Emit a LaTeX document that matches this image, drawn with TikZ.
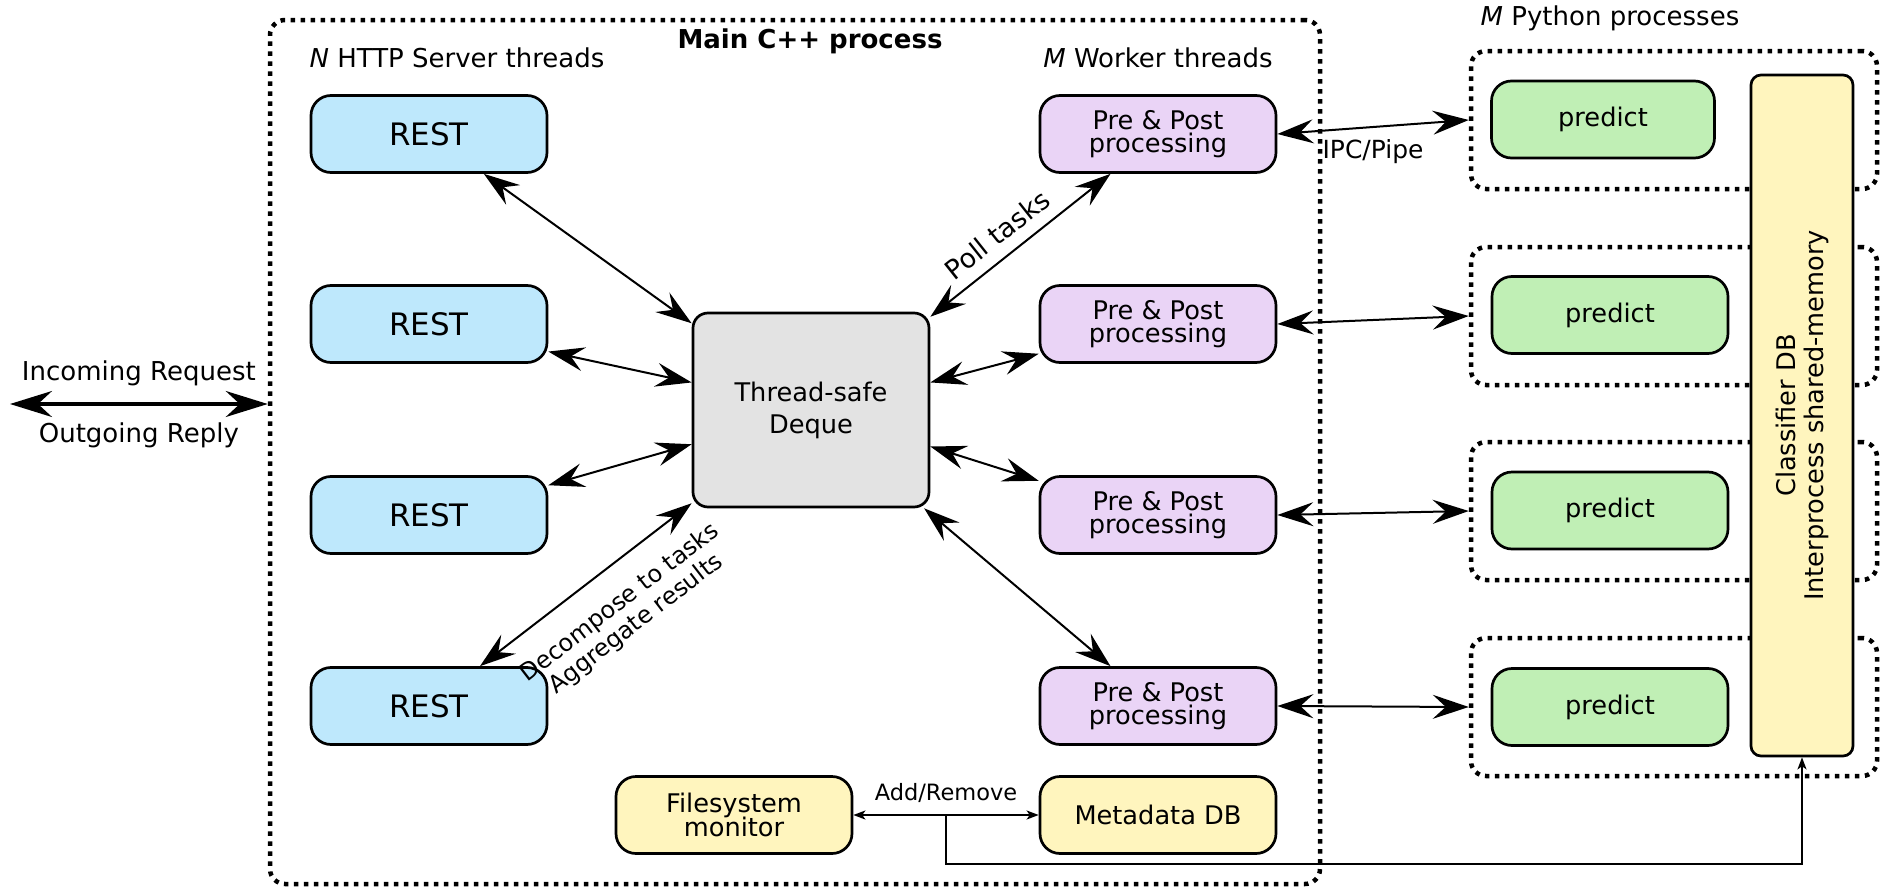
\documentclass[tikz,border=0pt]{standalone}
\usepackage{fontspec}
\setmainfont{DejaVu Sans}
\usetikzlibrary{arrows.meta}

\definecolor{restblue}{RGB}{190,232,252}
\definecolor{workerlilac}{RGB}{234,212,246}
\definecolor{predictgreen}{RGB}{192,239,181}
\definecolor{dbyellow}{RGB}{255,245,190}
\definecolor{dequegrey}{RGB}{227,227,227}

\tikzset{
    box/.style={draw, line width=0.27mm, rounded corners=2mm, minimum width=2.36cm, minimum height=0.77cm,
        inner sep=0pt, align=center, font=\fontsize{7.3}{6.6}\selectfont,
        execute at begin node={\lineskiplimit=-10pt}},
    restbox/.style={box, fill=restblue, font=\fontsize{8.8}{10}\selectfont},
    workerbox/.style={box, fill=workerlilac},
    predictbox/.style={box, fill=predictgreen},
    dbbox/.style={box, fill=dbyellow},
    dotframe/.style={draw, line width=0.45mm, dash pattern=on 0.45mm off 0.55mm, rounded corners=1.5mm, inner sep=0pt},
    link/.style={{Stealth[length=3.6mm, width=2.4mm, inset=1.3mm]}-{Stealth[length=3.6mm, width=2.4mm, inset=1.3mm]}, line width=0.2mm},
    biglink/.style={{Stealth[length=4.2mm, width=2.6mm, inset=1.4mm]}-{Stealth[length=4.2mm, width=2.6mm, inset=1.4mm]}, line width=0.33mm},
    smalllink/.style={{Stealth[length=1.2mm, width=0.9mm, inset=0.3mm]}-{Stealth[length=1.2mm, width=0.9mm, inset=0.3mm]}, line width=0.17mm},
    lbl/.style={font=\fontsize{7.4}{8.6}\selectfont}
}

\begin{document}
\begin{tikzpicture}
        \useasboundingbox (0, 0) rectangle (18.87, 8.88);

        %%main process
        \node[dotframe, minimum width=10.5cm, minimum height=8.64cm] (mainproc) at (7.95, 4.36) {};
            \node[lbl, font=\fontsize{7.4}{8.6}\selectfont\bfseries] (mainhead) at (8.10, 8.47) {Main C++ process};
            \node[lbl] (httphead) at (4.57, 8.30) {\textit{N} HTTP Server threads};
            \node[lbl] (workerhead) at (11.58, 8.30) {\textit{M} Worker threads};

        %%python processes
        \node[lbl] (pyhead) at (16.10, 8.70) {\textit{M} Python processes};
        \node[dotframe, minimum width=4.06cm, minimum height=1.38cm] (py1) at (16.74, 7.68) {};
        \node[dotframe, minimum width=4.06cm, minimum height=1.38cm] (py2) at (16.74, 5.72) {};
        \node[dotframe, minimum width=4.06cm, minimum height=1.38cm] (py3) at (16.74, 3.77) {};
        \node[dotframe, minimum width=4.06cm, minimum height=1.38cm] (py4) at (16.74, 1.81) {};

        \node[predictbox, minimum width=2.23cm] (predict1) at (16.03, 7.685) {predict};
        \node[predictbox] (predict2) at (16.10, 5.73) {predict};
        \node[predictbox] (predict3) at (16.10, 3.775) {predict};
        \node[predictbox] (predict4) at (16.10, 1.81) {predict};

        \node[dbbox, minimum width=1.02cm, minimum height=6.81cm, rounded corners=1mm] (classdb) at (18.02, 4.725) {};
            \node[rotate=90, align=center, font=\fontsize{7.3}{8}\selectfont] (classdbtext) at (classdb.center)
                {Classifier DB\\Interprocess shared-memory};

        %%server threads
        \node[restbox] (rest1) at (4.29, 7.54) {REST};
        \node[restbox] (rest2) at (4.29, 5.64) {REST};
        \node[restbox] (rest3) at (4.29, 3.73) {REST};
        \node[restbox] (rest4) at (4.29, 1.82) {REST};

        \node[box, fill=dequegrey, minimum height=1.94cm, rounded corners=1.5mm,
            font=\fontsize{7.3}{9.1}\selectfont] (deque) at (8.11, 4.78) {Thread-safe\\Deque};

        %%worker threads
        \node[workerbox] (pre1) at (11.58, 7.54) {Pre \& Post\\processing};
        \node[workerbox] (pre2) at (11.58, 5.64) {Pre \& Post\\processing};
        \node[workerbox] (pre3) at (11.58, 3.73) {Pre \& Post\\processing};
        \node[workerbox] (pre4) at (11.58, 1.82) {Pre \& Post\\processing};

        \node[dbbox] (fsmon) at (7.34, 0.73) {Filesystem\\monitor};
        \node[dbbox] (meta) at (11.58, 0.73) {Metadata DB};

        %%client
        \coordinate (client) at (0.10, 4.84);
        \draw[biglink] (client) to node[lbl, above=0.5mm] (inlbl) {Incoming Request}
            node[lbl, below=0.5mm] (outlbl) {Outgoing Reply} (client -| mainproc.west);

        %%server <-> deque
        \draw[link] (rest1.-36) to (deque.144);
        \draw[link] (rest2.-13) to (deque.167);
        \draw[link] (rest3.14) to (deque.-164);
        \draw[link] (rest4.38) to node[sloped, below=1.1mm, pos=0.56, align=center, font=\fontsize{6.8}{7.6}\selectfont] (decomplbl)
            {Decompose to tasks\\Aggregate results} (deque.-142);

        %%deque <-> workers
        \draw[link] (deque.38) to node[sloped, above, pos=0.45, font=\fontsize{7.6}{9}\selectfont] (polllbl) {Poll tasks} (pre1.-140);
        \draw[link] (deque.13) to (pre2.-166);
        \draw[link] (deque.-17) to (pre3.164);
        \draw[link] (deque.-41) to (pre4.140);

        %%workers <-> python
        \draw[link] (pre1.east) to node[below, font=\fontsize{7.1}{8}\selectfont] (ipclbl) {IPC/Pipe} (py1.west);
        \draw[link] (pre2.east) to (py2.west);
        \draw[link] (pre3.east) to (py3.west);
        \draw[link] (pre4.east) to (py4.west);

        %%databases
        \draw[smalllink] (fsmon.east) -- node[above, font=\fontsize{6.4}{7.5}\selectfont] (addlbl) {Add/Remove}
            coordinate (split) (meta.west);
        \draw[-{Stealth[length=1.2mm, width=0.9mm, inset=0.3mm]}, line width=0.17mm]
            (split) -- ++(0, -0.49) -| (classdb.south);

\end{tikzpicture}
\end{document}
